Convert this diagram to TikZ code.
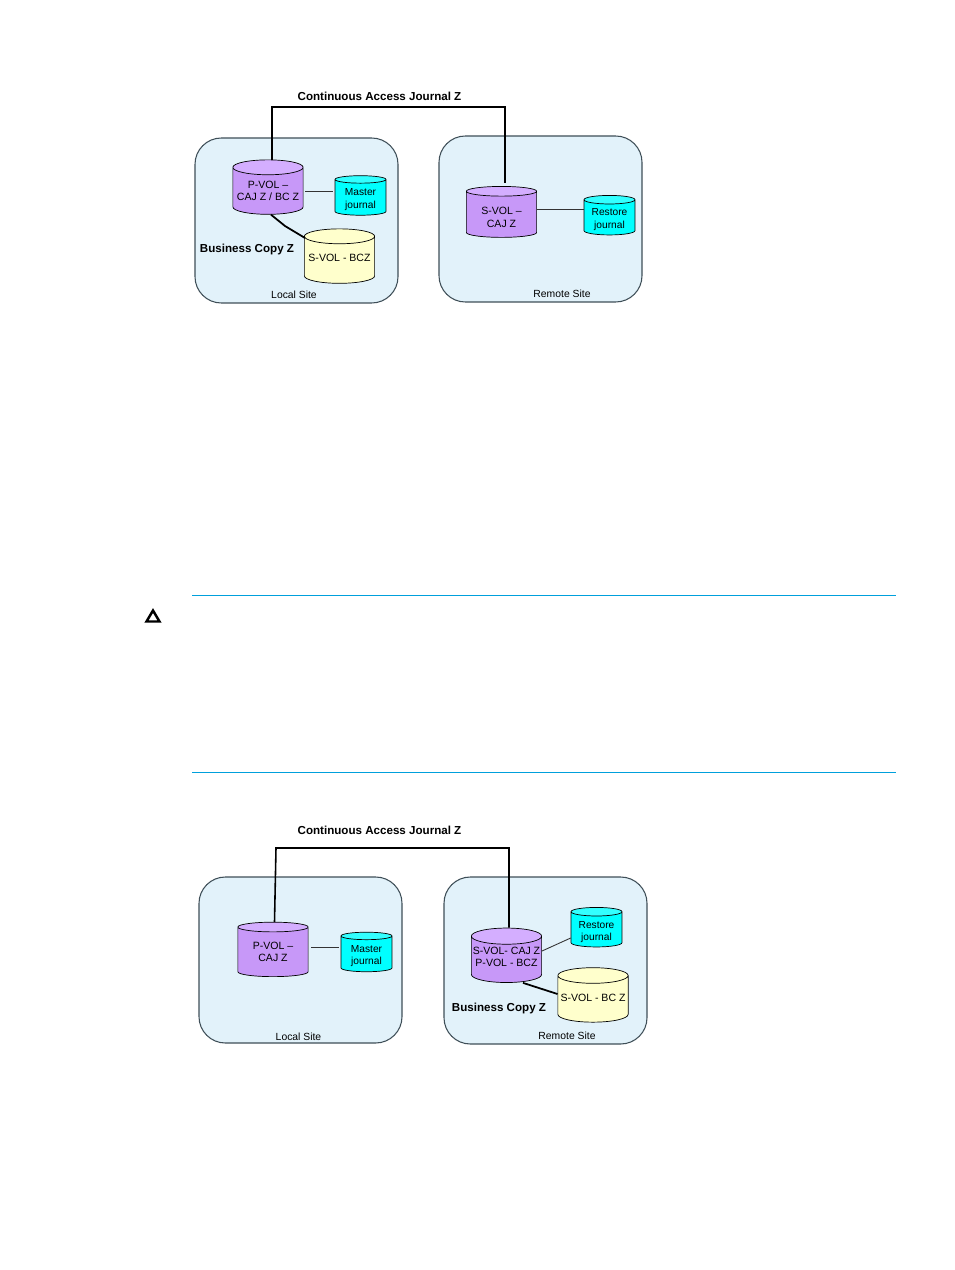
\documentclass[tikz,border=0pt]{standalone}
\usepackage{fontspec}
\setmainfont{Liberation Sans}
\usetikzlibrary{shapes.geometric}
\definecolor{sitefill}{HTML}{E2F2FA}
\definecolor{siteline}{HTML}{3F4F58}
\definecolor{rulecolor}{HTML}{00A0DC}
\definecolor{purplebody}{HTML}{C798F8}
\definecolor{purpletop}{HTML}{D4AEFF}
\definecolor{journalbody}{HTML}{00FFFF}
\definecolor{journaltop}{HTML}{33FFFF}
\definecolor{copybody}{HTML}{FFFFCC}
\newcommand{\movedline}[2]{\raisebox{#1}[\height][\depth]{#2}}
\tikzset{
  site/.style={draw=siteline, fill=sitefill, line width=0.6pt, rounded corners=15pt},
  vol/.style={draw=black, cylinder, shape border rotate=90, aspect=0.24, inner sep=0pt, align=center,
    cylinder uses custom fill, font=\fontsize{6}{7.1}\selectfont},
  primary/.style={vol, minimum width=40pt, minimum height=31pt, cylinder body fill=purplebody, cylinder end fill=purpletop},
  journal/.style={vol, font=\fontsize{5.8}{7.1}\selectfont, minimum width=29pt, minimum height=22.5pt, cylinder body fill=journalbody, cylinder end fill=journaltop},
  copyvol/.style={vol, minimum width=40pt, minimum height=31pt, cylinder body fill=copybody, cylinder end fill=copybody},
  sitelabel/.style={font=\fontsize{5.9}{6}\selectfont},
  title/.style={font=\fontsize{6.6}{7}\selectfont\bfseries},
  link/.style={draw=black, line width=0.9pt},
  thin link/.style={draw=black!80, line width=0.5pt},
  bc link/.style={draw=black, line width=1pt}
}
\begin{document}
\begin{tikzpicture}[x=0.02cm,y=-0.02cm]
\useasboundingbox (0,0) rectangle (954,1270);
\fill[white] (0,0) rectangle (954,1270);

% first picture
\draw[site] (195,138) rectangle (398,303);
\draw[site] (439,136) rectangle (642,302);
\node[title] (titleA) at (379.5,96) {Continuous Access Journal Z};
\node[primary] (pvolA) at (268,191) {P-VOL --\\CAJ Z / BC Z};
\node[journal] (masterA) at (360.5,197.5) {\movedline{-1.3pt}{Master}\\\movedline{-1.3pt}{journal}};
\node[copyvol] (bcvolA) at (339.5,260) {\movedline{1pt}{S-VOL - BCZ}};
\node[primary, minimum height=29pt] (svolA) at (501.5,214.5) {\movedline{-1.7pt}{S-VOL --}\\\movedline{-1.7pt}{CAJ Z}};
\node[journal] (restoreA) at (609.5,217.5) {\movedline{-1.1pt}{Restore}\\\movedline{-1.1pt}{journal}};
\node[title] (bcA) at (247,249.5) {Business Copy Z};
\node[sitelabel] (localA) at (294,294.5) {Local Site};
\node[sitelabel] (remoteA) at (562,293.5) {Remote Site};
\coordinate (linkA) at (272,107);
\coordinate (bcendA) at (305,238);
\draw[link, shorten >=1.7pt] (pvolA.north -| linkA) -- (linkA) -| (505,186);
\draw[thin link] (305,191) -- (333,191);
\draw[thin link] (svolA.east |- 0,209) -- (restoreA.west |- 0,209);
\draw[bc link] (pvolA.south -| 271,0) -- (285,226) -- (bcendA);

% caution
\draw[draw=rulecolor, line width=0.5pt] (192,595.5) -- (896,595.5);
\draw[black, line width=1.4pt, line join=miter] (146.5,621.5) -- (153,610.5) -- (159.5,621.5) -- cycle;
\draw[draw=rulecolor, line width=0.5pt] (192,772.5) -- (896,772.5);

% second picture
\draw[site] (199,877) rectangle (402,1043);
\draw[site] (444,877) rectangle (647,1044);
\node[title] (titleB) at (379.5,830) {Continuous Access Journal Z};
\node[primary] (pvolB) at (273,952) {P-VOL --\\CAJ Z};
\node[journal] (masterB) at (366.5,954) {\movedline{-1.1pt}{Master}\\\movedline{-1.1pt}{journal}};
\node[primary] (svolB) at (506.5,959.5) {\movedline{1.4pt}{S-VOL- CAJ Z}\\\movedline{1.4pt}{P-VOL - BCZ}};
\node[journal] (restoreB) at (596.5,929.5) {\movedline{-1.5pt}{Restore}\\\movedline{-1.5pt}{journal}};
\node[copyvol] (bcvolB) at (593,999) {\movedline{0.6pt}{S-VOL - BC Z}};
\node[title] (bcB) at (499,1008.5) {Business Copy Z};
\node[sitelabel] (localB) at (298.5,1036.5) {Local Site};
\node[sitelabel] (remoteB) at (567,1035.5) {Remote Site};
\coordinate (linkB) at (276,848);
\draw[link] (pvolB.north -| 274.5,0) -- (linkB) -| (svolB.north -| 509,0);
\draw[thin link] (311,947) -- (339,947);
\draw[thin link] (svolB.east |- 0,951) -- (restoreB.west |- 0,938);
\draw[bc link] (svolB.south -| 523,0) -- (bcvolB.west |- 0,994);
\end{tikzpicture}
\end{document}
